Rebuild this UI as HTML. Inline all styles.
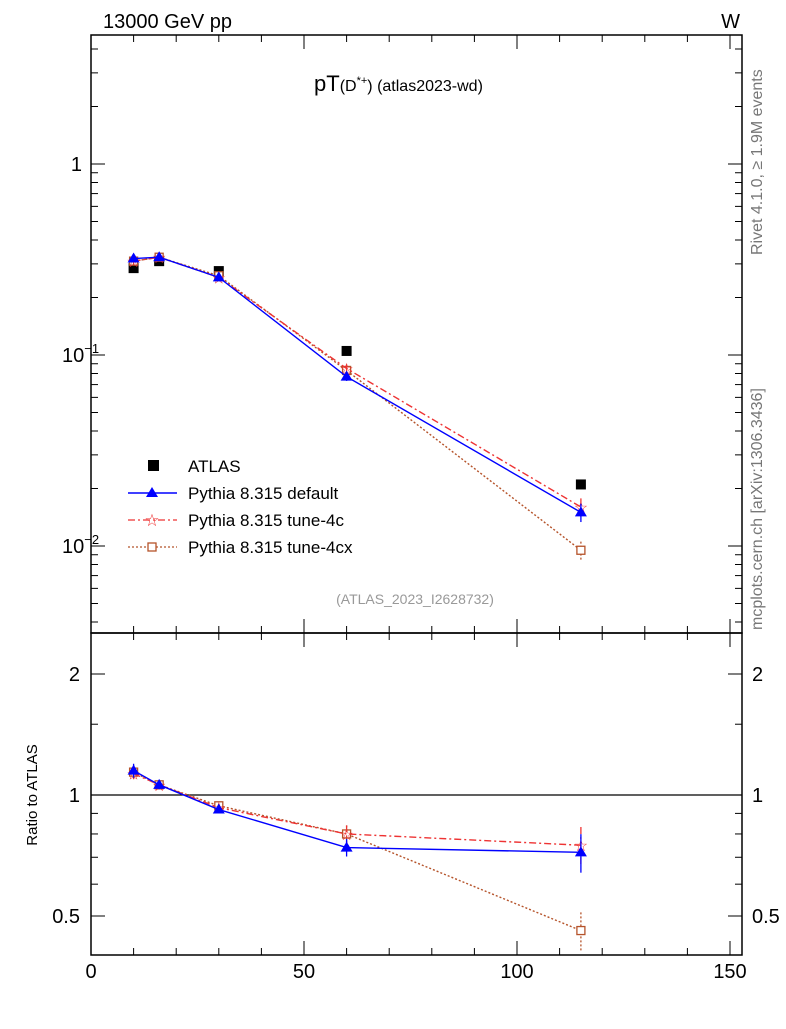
<!DOCTYPE html>
<html><head><meta charset="utf-8"><style>
body{margin:0;background:#fff}
text{font-family:"Liberation Sans",sans-serif}
</style></head><body>
<svg id="c" width="786" height="1024" viewBox="0 0 786 1024">
<rect x="91" y="35" width="651" height="598" fill="none" stroke="#000" stroke-width="1.5"/>
<rect x="91" y="633" width="651" height="322" fill="none" stroke="#000" stroke-width="1.5"/>
<text x="103" y="28" font-size="20">13000 GeV pp</text>
<text x="740" y="28" font-size="20" text-anchor="end">W</text>
<text x="314" y="91" font-size="22">pT<tspan font-size="16">(D</tspan><tspan font-size="11" dy="-7">*+</tspan><tspan font-size="16" dy="7">) (atlas2023-wd)</tspan></text>
<text x="415" y="604" font-size="14" fill="#999" text-anchor="middle">(ATLAS_2023_I2628732)</text>
<text transform="translate(762,255) rotate(-90)" font-size="16" fill="#777">Rivet 4.1.0, ≥ 1.9M events</text>
<text transform="translate(762,630) rotate(-90)" font-size="16" fill="#777">mcplots.cern.ch [arXiv:1306.3436]</text>
<text transform="translate(37,795) rotate(-90)" font-size="15" text-anchor="middle">Ratio to ATLAS</text>
<line x1="91" y1="795" x2="742" y2="795" stroke="#000" stroke-width="1.3"/>
<g id="ax"></g><g id="marks"></g>
<g>
<rect x="148" y="460" width="11" height="11" fill="#000"/>
<text x="188" y="472" font-size="17">ATLAS</text>
<line x1="128" y1="493" x2="177" y2="493" stroke="#00f" stroke-width="1.5"/>
<polygon points="152,487 158,497 146,497" fill="#00f"/>
<text x="188" y="499" font-size="17">Pythia 8.315 default</text>
<line x1="128" y1="520" x2="177" y2="520" stroke="#e33" stroke-width="1.3" stroke-dasharray="7,3,2,3"/>
<text x="152" y="526" font-size="17" fill="#e33" text-anchor="middle">☆</text>
<text x="188" y="526" font-size="17">Pythia 8.315 tune-4c</text>
<line x1="128" y1="547" x2="177" y2="547" stroke="#b5532a" stroke-width="1.3" stroke-dasharray="2,2"/>
<rect x="148" y="543" width="8" height="8" fill="#fff" stroke="#b5532a" stroke-width="1.3"/>
<text x="188" y="553" font-size="17">Pythia 8.315 tune-4cx</text>
</g>
</svg>
<script>
const xVals=[10,16,30,60,115];
const atlas=[0.285,0.31,0.275,0.105,0.021];
const pDefault=[0.32,0.325,0.255,0.077,0.015];
const p4c=[0.31,0.325,0.255,0.085,0.016];
const p4cx=[0.31,0.325,0.26,0.083,0.0095];
const rDefault=[1.15,1.06,0.92,0.74,0.72];
const r4c=[1.13,1.06,0.93,0.80,0.75];
const r4cx=[1.14,1.06,0.94,0.80,0.46];
const rErr=[0.04,0.025,0.02,0.05,0.11];
const xTicks=[0,50,100,150];
const NS='http://www.w3.org/2000/svg';
const X=v=>91+v*4.26;
const Y=v=>164-191*Math.log10(v);
const R=v=>795-121*Math.log2(v);
const ax=document.getElementById('ax'),mk=document.getElementById('marks');
function el(t,a,p){const e=document.createElementNS(NS,t);for(const k in a)e.setAttribute(k,a[k]);(p||ax).appendChild(e);return e;}
for(let v=0;v<=150;v+=10){const big=v%50==0;
 for(const [yb,yt] of [[633,35],[955,633]]){
  let t=el('line',{x1:X(v),x2:X(v),y1:yb,y2:yb-(big?14:7),stroke:'#000'});
  t=el('line',{x1:X(v),x2:X(v),y1:yt,y2:yt+(big?14:7),stroke:'#000'});}}
xTicks.forEach(v=>{const t=el('text',{x:X(v),y:978,'font-size':20,'text-anchor':'middle'});t.textContent=v;});
for(let d=-3;d<=0;d++)for(let m=1;m<10;m++){const v=m*Math.pow(10,d),y=Y(v);if(y<35||y>633)continue;const L=m==1?14:7;
 let t=el('line',{x1:91,x2:91+L,y1:y,y2:y,stroke:'#000'});
 t=el('line',{x1:742,x2:742-L,y1:y,y2:y,stroke:'#000'});}
[[1,'1',''],[0.1,'10','−1'],[0.01,'10','−2']].forEach(([v,b,e])=>{const t=el('text',{x:e?80:82,y:Y(v)+7,'font-size':20,'text-anchor':'end'});t.textContent=b;if(e){const s=document.createElementNS(NS,'tspan');s.setAttribute('font-size',13);s.setAttribute('dy',-9);s.textContent=e;t.appendChild(s);t.setAttribute('x',62);t.setAttribute('text-anchor','start');}});
[0.5,0.6,0.7,0.8,0.9,1,1.5,2].forEach(v=>{const y=R(v),L=(v==0.5||v==1||v==2)?14:7;
 let t=el('line',{x1:91,x2:91+L,y1:y,y2:y,stroke:'#000'});
 t=el('line',{x1:742,x2:742-L,y1:y,y2:y,stroke:'#000'});});
[[0.5,'0.5'],[1,'1'],[2,'2']].forEach(([v,s])=>{for(const [x,a] of [[80,'end'],[752,'start']]){const t=el('text',{x:x,y:R(v)+7,'font-size':20,'text-anchor':a});t.textContent=s;}});
function series(vals,F,color,dash,shape,name,err){
 const pts=vals.map((v,i)=>X(xVals[i])+','+F(v)).join(' ');
 const l=el('polyline',{points:pts,fill:'none',stroke:color,'stroke-width':1.4,'stroke-dasharray':dash},mk);
 vals.forEach((v,i)=>{const x=X(xVals[i]),y=F(v);let m;
  if(err){const e=el('line',{x1:x,x2:x,y1:F(v*(1+err[i])),y2:F(v*(1-err[i])),stroke:color,'stroke-width':1.3,'stroke-dasharray':dash},mk);}
  if(shape=='tri')m=el('polygon',{points:`${x},${y-6} ${x+6},${y+4} ${x-6},${y+4}`,fill:color},mk);
  else if(shape=='star'){m=el('text',{x:x,y:y+6,'font-size':16,fill:color,'text-anchor':'middle'},mk);m.textContent='☆';}
  else m=el('rect',{x:x-4,y:y-4,width:8,height:8,fill:'#fff',stroke:color,'stroke-width':1.3},mk);
  });
}
atlas.forEach((v,i)=>{const r=el('rect',{x:X(xVals[i])-5,y:Y(v)-5,width:10,height:10,fill:'#000'},mk);});
series(p4cx,Y,'#b5532a','2,2','sq','tune-4cx',rErr);
series(p4c,Y,'#e33','7,3,2,3','star','tune-4c',rErr);
series(pDefault,Y,'#00f','','tri','default',rErr);
series(r4cx,R,'#b5532a','2,2','sq','ratio-tune-4cx',rErr);
series(r4c,R,'#e33','7,3,2,3','star','ratio-tune-4c',rErr);
series(rDefault,R,'#00f','','tri','ratio-default',rErr);
</script>
</body></html>
